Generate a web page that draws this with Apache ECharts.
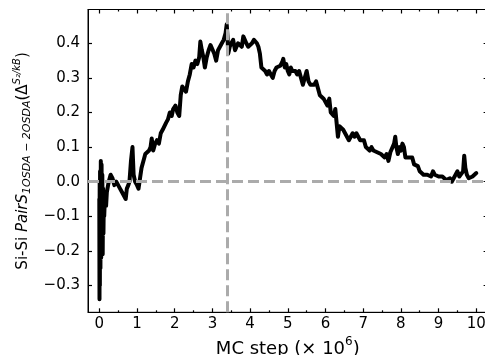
<!DOCTYPE html>
<html>
<head>
<meta charset="utf-8">
<script src="https://cdn.jsdelivr.net/npm/echarts@6/dist/echarts.min.js"></script>
<style>
  html, body { margin: 0; padding: 0; background: #fff; }
  #chart { width: 485px; height: 355px; }
</style>
</head>
<body>
<div id="chart"></div>
<script>
// MC step (x 10^6)
var steps = [
  0.00, 0.005, 0.01, 0.015, 0.02, 0.03, 0.04, 0.05, 0.06, 0.07, 0.08, 0.09, 0.10, 0.11, 0.12, 0.13, 0.14, 0.16, 0.18, 0.20,
  0.25, 0.30, 0.35, 0.40, 0.45, 0.50, 0.55, 0.60, 0.65, 0.70, 0.73, 0.77, 0.80, 0.84, 0.88, 0.91, 0.95, 1.00,
  1.04, 1.08, 1.12, 1.17, 1.22, 1.27, 1.32, 1.36, 1.39, 1.43, 1.48, 1.53, 1.58, 1.63, 1.68, 1.72, 1.77, 1.82,
  1.87, 1.92, 1.96, 2.02, 2.07, 2.12, 2.16, 2.20, 2.25, 2.30, 2.35, 2.40, 2.45, 2.50, 2.55, 2.60, 2.65, 2.68,
  2.72, 2.76, 2.80, 2.85, 2.90, 2.95, 3.00, 3.05, 3.10, 3.15, 3.20, 3.25, 3.30, 3.35, 3.38, 3.40, 3.42, 3.46,
  3.50, 3.55, 3.60, 3.64, 3.68, 3.73, 3.78, 3.82, 3.86, 3.90, 3.95, 4.00, 4.05, 4.10, 4.14, 4.18, 4.22, 4.26,
  4.30, 4.35, 4.40, 4.45, 4.50, 4.55, 4.60, 4.65, 4.70, 4.75, 4.80, 4.85, 4.88, 4.92, 4.96, 5.00, 5.04, 5.08,
  5.12, 5.16, 5.20, 5.25, 5.30, 5.35, 5.40, 5.45, 5.50, 5.55, 5.60, 5.65, 5.70, 5.75, 5.80, 5.85, 5.90, 5.95,
  6.00, 6.05, 6.10, 6.14, 6.18, 6.22, 6.26, 6.30, 6.33, 6.37, 6.42, 6.47, 6.52, 6.57, 6.62, 6.67, 6.72, 6.77,
  6.82, 6.87, 6.92, 6.97, 7.02, 7.07, 7.12, 7.17, 7.22, 7.27, 7.32, 7.37, 7.42, 7.47, 7.52, 7.57, 7.62, 7.67,
  7.72, 7.77, 7.82, 7.85, 7.88, 7.92, 7.96, 8.00, 8.04, 8.08, 8.12, 8.16, 8.20, 8.25, 8.30, 8.35, 8.40, 8.45,
  8.50, 8.55, 8.60, 8.65, 8.70, 8.75, 8.80, 8.85, 8.90, 8.95, 9.00, 9.05, 9.10, 9.15, 9.20, 9.25, 9.30, 9.35,
  9.40, 9.45, 9.50, 9.55, 9.60, 9.65, 9.68, 9.71, 9.75, 9.80, 9.85, 9.90, 9.95, 10.00
];
// Si-Si pair entropy difference
var entropy = [
  -0.05, -0.34, 0.00, -0.30, 0.03, -0.25, 0.06, -0.22, 0.05, -0.18, 0.02, -0.21, -0.02, -0.15, -0.05, -0.10, -0.07, -0.06, -0.07, -0.03,
  0.00, 0.02, 0.01, -0.01, 0.00, -0.01, -0.02, -0.03, -0.04, -0.05, -0.02, -0.01, 0.00, 0.06, 0.10, 0.02, 0.00, -0.01,
  -0.02, 0.01, 0.04, 0.06, 0.08, 0.085, 0.09, 0.10, 0.125, 0.09, 0.11, 0.12, 0.11, 0.14, 0.15, 0.145, 0.17, 0.18,
  0.20, 0.19, 0.21, 0.22, 0.20, 0.19, 0.25, 0.275, 0.27, 0.26, 0.29, 0.31, 0.34, 0.33, 0.35, 0.34, 0.36, 0.405,
  0.38, 0.36, 0.33, 0.36, 0.38, 0.395, 0.39, 0.37, 0.35, 0.38, 0.39, 0.40, 0.41, 0.43, 0.455, 0.42, 0.37, 0.39,
  0.40, 0.41, 0.38, 0.375, 0.40, 0.405, 0.39, 0.42, 0.41, 0.40, 0.39, 0.39, 0.40, 0.41, 0.415, 0.40, 0.39, 0.37,
  0.33, 0.33, 0.32, 0.31, 0.32, 0.31, 0.30, 0.32, 0.33, 0.33, 0.335, 0.345, 0.355, 0.33, 0.34, 0.32, 0.31, 0.33,
  0.32, 0.325, 0.32, 0.31, 0.32, 0.30, 0.28, 0.30, 0.32, 0.29, 0.28, 0.28, 0.28, 0.29, 0.27, 0.25, 0.25, 0.24,
  0.235, 0.22, 0.24, 0.20, 0.20, 0.19, 0.21, 0.215, 0.13, 0.16, 0.165, 0.15, 0.14, 0.13, 0.12, 0.125, 0.14, 0.13,
  0.14, 0.13, 0.12, 0.125, 0.12, 0.10, 0.10, 0.09, 0.10, 0.09, 0.09, 0.085, 0.09, 0.08, 0.085, 0.07, 0.08, 0.06,
  0.085, 0.08, 0.11, 0.13, 0.10, 0.08, 0.10, 0.09, 0.11, 0.10, 0.07, 0.065, 0.07, 0.07, 0.07, 0.05, 0.05, 0.045,
  0.03, 0.025, 0.02, 0.025, 0.02, 0.02, 0.015, 0.03, 0.02, 0.015, 0.015, 0.01, 0.015, 0.01, 0.005, 0.005, 0.01, 0.00,
  0.00, 0.02, 0.03, 0.015, 0.01, 0.03, 0.075, 0.04, 0.02, 0.01, 0.01, 0.015, 0.02, 0.025
];
var xMajorTicks = [0, 1, 2, 3, 4, 5, 6, 7, 8, 9, 10];
var xMinorTicks = [0.5, 1.5, 2.5, 3.5, 4.5, 5.5, 6.5, 7.5, 8.5, 9.5];
var yTicks = [-0.3, -0.2, -0.1, 0.0, 0.1, 0.2, 0.3, 0.4];
var refStep = 3.4;
var refZero = 0;

var chart = echarts.init(document.getElementById('chart'));
var font = 'DejaVu Sans';
var xMin = -0.3, xMax = 10.3, yMin = -0.3775, yMax = 0.4977;
var gridBox = { left: 88, top: 9.5, width: 399.6, height: 302.8, outerBoundsMode: 'none', containLabel: false };

var data = steps.map(function (s, i) { return [s, entropy[i]]; });

function fmtY(v) {
  var s = v.toFixed(1);
  return s.charAt(0) === '-' ? '\u2212' + s.slice(1) : s;
}

function xAx(grid, pos, ticks, len, labels) {
  return {
    type: 'value', gridIndex: grid, position: pos, min: xMin, max: xMax,
    axisLine: { show: grid === 0, onZero: false, lineStyle: { color: '#000', width: 1 } },
    axisTick: { show: true, inside: true, length: len, customValues: ticks,
      lineStyle: { color: '#000', width: 1.2 } },
    axisLabel: { show: labels, customValues: xMajorTicks, margin: 4,
      fontFamily: font, fontSize: 15, color: '#000' },
    splitLine: { show: false }
  };
}
function yAx(grid, pos, labels) {
  return {
    type: 'value', gridIndex: grid, position: pos, min: yMin, max: yMax,
    axisLine: { show: grid === 0, onZero: false, lineStyle: { color: '#000', width: 1 } },
    axisTick: { show: grid === 0, inside: true, length: 4, customValues: yTicks,
      lineStyle: { color: '#000', width: 1.2 } },
    axisLabel: { show: labels, customValues: yTicks, margin: 8,
      fontFamily: font, fontSize: 15, color: '#000', formatter: fmtY },
    splitLine: { show: false }
  };
}

var xBottom = xAx(0, 'bottom', xMajorTicks, 4, true);
xBottom.name = '{n|MC step (\u00d7 10}{sup|6}{n|)}';
xBottom.nameLocation = 'middle';
xBottom.nameGap = 18;
xBottom.nameTextStyle = {
  rich: {
    n: { fontFamily: font, fontSize: 18, color: '#000', lineHeight: 22, verticalAlign: 'bottom' },
    sup: { fontFamily: font, fontSize: 12, color: '#000', lineHeight: 22, verticalAlign: 'top' }
  }
};

var yLeft = yAx(0, 'left', true);
yLeft.name = '{n|Si-Si }{it|PairS}{sub|1OSDA \u2212 2OSDA}{n|(\u0394}{fr|S\u2082/kB}{n|)}';
yLeft.nameLocation = 'middle';
yLeft.nameGap = 52;
yLeft.nameRotate = 90;
yLeft.nameTextStyle = {
  rich: {
    n: { fontFamily: font, fontSize: 15, color: '#000', lineHeight: 20 },
    it: { fontFamily: font, fontStyle: 'italic', fontSize: 15, color: '#000', lineHeight: 20 },
    sub: { fontFamily: font, fontStyle: 'italic', fontSize: 11, color: '#000', lineHeight: 10, verticalAlign: 'bottom' },
    fr: { fontFamily: font, fontStyle: 'italic', fontSize: 10, color: '#000', lineHeight: 10, verticalAlign: 'top' }
  }
};

chart.setOption({
  animation: false,
  backgroundColor: '#fff',
  grid: [
    Object.assign({ show: true, borderColor: '#000', borderWidth: 1, backgroundColor: 'transparent' }, gridBox),
    Object.assign({ show: false }, gridBox)
  ],
  xAxis: [
    xBottom,
    xAx(0, 'top', xMajorTicks, 4, false),
    xAx(1, 'bottom', xMinorTicks, 2, false),
    xAx(1, 'top', xMinorTicks, 2, false)
  ],
  yAxis: [
    yLeft,
    yAx(0, 'right', false),
    yAx(1, 'left', false)
  ],
  series: [{
    type: 'line',
    xAxisIndex: 0,
    yAxisIndex: 0,
    data: data,
    showSymbol: false,
    symbol: 'none',
    lineStyle: { color: '#000', width: 4, join: 'round', cap: 'round' },
    clip: true,
    markLine: {
      silent: true,
      symbol: 'none',
      label: { show: false },
      lineStyle: { color: '#ababab', width: 3, type: [11, 5] },
      data: [{ yAxis: refZero }, { xAxis: refStep }]
    }
  }]
});
</script>
</body>
</html>
